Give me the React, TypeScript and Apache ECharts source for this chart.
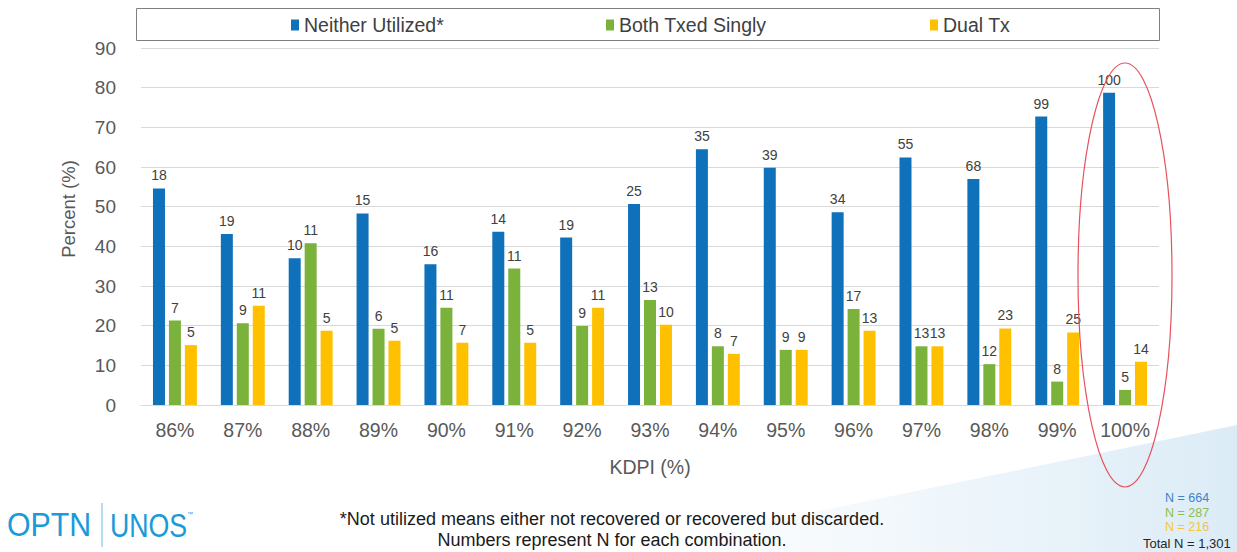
import React, { useEffect, useRef } from "react";
import * as echarts from "echarts";

const categories = ["86%", "87%", "88%", "89%", "90%", "91%", "92%", "93%", "94%", "95%", "96%", "97%", "98%", "99%", "100%"];
const pctNeither = [54.6, 43.1, 37.0, 48.3, 35.5, 43.7, 42.2, 50.7, 64.5, 59.8, 48.6, 62.4, 57.0, 72.7, 78.7];
const pctBoth = [21.3, 20.6, 40.8, 19.2, 24.5, 34.4, 19.9, 26.5, 14.8, 13.9, 24.2, 14.8, 10.3, 5.9, 3.8];
const pctDual = [15.1, 25.0, 18.7, 16.2, 15.7, 15.7, 24.5, 20.2, 12.9, 13.9, 18.7, 14.8, 19.3, 18.3, 10.9];
const nNeither = [18, 19, 10, 15, 16, 14, 19, 25, 35, 39, 34, 55, 68, 99, 100];
const nBoth = [7, 9, 11, 6, 11, 11, 9, 13, 8, 9, 17, 13, 12, 8, 5];
const nDual = [5, 11, 5, 5, 7, 5, 11, 10, 7, 9, 13, 13, 23, 25, 14];
const seriesNames = ["Neither Utilized*", "Both Txed Singly", "Dual Tx"];
const yTicks = [0, 10, 20, 30, 40, 50, 60, 70, 80, 90];
const footnotes = ["*Not utilized means either not recovered or recovered but discarded.", "Numbers represent N for each combination."];
const totals = ["N = 664", "N = 287", "N = 216", "Total N = 1,301"];

const COLORS = ["#0F71BA", "#7AB23C", "#FFC000"];
const FONT = "'Liberation Sans', Arial, sans-serif";

export default function App() {
  const ref = useRef<HTMLDivElement>(null);
  useEffect(() => {
    if (!ref.current) return;
    const chart = echarts.init(ref.current, null, { renderer: "svg" });
    const nArrays = [nNeither, nBoth, nDual];
    const pArrays = [pctNeither, pctBoth, pctDual];
    const legendLefts = [286, 601, 925];
    const option: any = {
      animation: false,
      backgroundColor: "#ffffff",
      textStyle: { fontFamily: FONT },
      legend: seriesNames.map((name, i) => ({
        data: [name],
        left: legendLefts[i],
        top: 10,
        icon: "rect",
        itemWidth: 8,
        itemHeight: 11,
        itemGap: 4,
        textStyle: { fontSize: 19.5, color: "#404040", fontFamily: FONT, padding: [0, 0, 0, 0] },
      })),
      grid: { left: 141, right: 78, top: 48, bottom: 147, containLabel: false },
      xAxis: {
        type: "category",
        data: categories,
        axisLine: { show: true, lineStyle: { color: "#D9D9D9" } },
        axisTick: { show: false },
        axisLabel: { fontSize: 19.5, color: "#595959", margin: 15, fontFamily: FONT },
        name: "KDPI (%)",
        nameLocation: "middle",
        nameGap: 52,
        nameTextStyle: { fontSize: 19.5, color: "#595959", fontFamily: FONT },
      },
      yAxis: {
        type: "value",
        min: yTicks[0],
        max: yTicks[yTicks.length - 1],
        interval: 10,
        axisLine: { show: false },
        axisTick: { show: false },
        splitLine: { lineStyle: { color: "#D9D9D9", width: 1 } },
        axisLabel: { fontSize: 19, color: "#595959", margin: 25, fontFamily: FONT },
      },
      series: seriesNames.map((name, i) => ({
        name,
        type: "bar",
        data: pArrays[i],
        barWidth: 12,
        barGap: "33%",
        itemStyle: { color: COLORS[i] },
        label: {
          show: true,
          position: "top",
          distance: 6,
          fontSize: 14,
          color: "#404040",
          fontFamily: FONT,
          formatter: (p: any) => String(nArrays[i][p.dataIndex]),
        },
      })),
      graphic: [
        {
          type: "polygon",
          z: -10,
          silent: true,
          shape: { points: [[620, 552], [1237, 425], [1237, 552]] },
          style: {
            fill: new echarts.graphic.LinearGradient(0, 0, 1, 0, [
              { offset: 0, color: "rgba(214,232,244,0)" },
              { offset: 1, color: "rgba(195,222,240,0.6)" },
            ]),
          },
        },
        {
          type: "text",
          x: 68,
          y: 209,
          rotation: Math.PI / 2,
          style: { text: "Percent (%)", fontSize: 18.5, fontFamily: FONT, fill: "#595959", align: "center", verticalAlign: "middle", textAlign: "center", textVerticalAlign: "middle" },
        },
        {
          type: "rect",
          z: 10,
          silent: true,
          shape: { x: 136.5, y: 8.5, width: 1023, height: 32 },
          style: { fill: "none", stroke: "#7F7F7F", lineWidth: 1 },
        },
        {
          type: "ellipse",
          z: 10,
          silent: true,
          shape: { cx: 1125, cy: 275, rx: 47, ry: 212 },
          style: { fill: "none", stroke: "#E8505B", lineWidth: 1.2 },
        },
        {
          type: "text",
          x: 7,
          y: 525,
          scaleX: 0.92,
          style: { text: "OPTN", fontSize: 33, fontFamily: FONT, fill: "#1A9AD7", align: "left", verticalAlign: "middle", textAlign: "left", textVerticalAlign: "middle" },
        },
        {
          type: "line",
          shape: { x1: 102, y1: 503, x2: 102, y2: 547 },
          style: { stroke: "#6CB8E2", lineWidth: 1 },
        },
        {
          type: "text",
          x: 110,
          y: 525,
          scaleX: 0.81,
          style: { text: "UNOS", fontSize: 33, fontFamily: FONT, fill: "#1A9AD7", align: "left", verticalAlign: "middle", textAlign: "left", textVerticalAlign: "middle" },
        },
        {
          type: "text",
          x: 187,
          y: 514,
          style: { text: "™", fontSize: 6, fontFamily: FONT, fill: "#1A9AD7", align: "left", verticalAlign: "middle", textAlign: "left", textVerticalAlign: "middle" },
        },
        ...footnotes.map((t, i) => ({
          type: "text",
          x: 612,
          y: 519 + i * 21,
          style: { text: t, fontSize: 18, fontFamily: FONT, fill: "#1A1A1A", align: "center", verticalAlign: "middle", textAlign: "center", textVerticalAlign: "middle" },
        })),
        ...totals.map((t, i) => ({
          type: "text",
          x: i < 3 ? 1165 : 1143,
          y: i < 3 ? 498 + i * 14.5 : 543,
          style: {
            text: t,
            fontSize: i < 3 ? 12.5 : 13,
            fontFamily: FONT,
            fill: i < 3 ? ["#3C84C8", "#8DBE4E", "#F5C542"][i] : "#262626",
            align: "left",
            verticalAlign: "middle",
            textAlign: "left",
            textVerticalAlign: "middle",
          },
        })),
      ],
    };
    chart.setOption(option);
    return () => chart.dispose();
  }, []);
  return <div ref={ref} style={{ width: 1237, height: 552, position: "absolute", left: 0, top: 0 }} />;
}
